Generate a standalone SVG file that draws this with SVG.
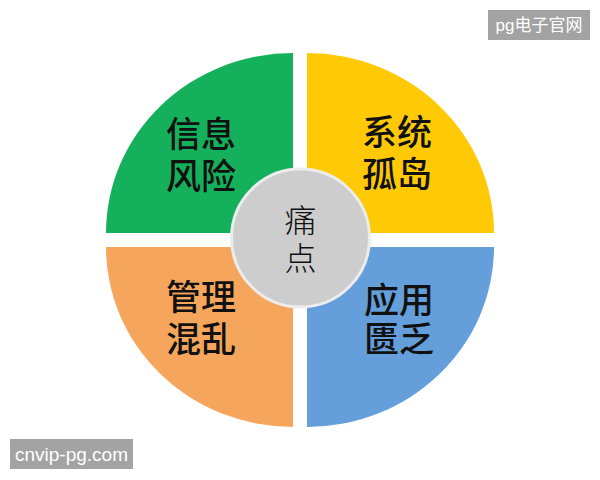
<svg xmlns="http://www.w3.org/2000/svg" width="600" height="480" viewBox="0 0 600 480">
<style>
.lbl{font-family:"Noto Sans CJK SC","Noto Sans",sans-serif;font-size:35px;font-weight:500;fill:#111;text-anchor:middle}
.ctr{font-family:"Noto Sans CJK SC",sans-serif;font-size:32px;font-weight:300;fill:#111;text-anchor:middle}
.wm{fill:#a3a3a3}
.wmt{font-family:"Liberation Sans","Noto Sans CJK SC",sans-serif;fill:#fff;text-anchor:middle;dominant-baseline:central}
</style>
<rect width="600" height="480" fill="#fff"/>
<g id="green">
<path d="M293,233 L106,233 A187,180 0 0 1 293,53 Z" fill="#15b05b"/>
<text class="lbl"><tspan x="201" y="147">信息</tspan><tspan x="201" y="189">风险</tspan></text>
</g>
<g id="yellow">
<path d="M307,233 L307,53 A187,180 0 0 1 494,233 Z" fill="#ffc906"/>
<text class="lbl"><tspan x="397" y="145">系统</tspan><tspan x="397" y="187">孤岛</tspan></text>
</g>
<g id="blue">
<path d="M307,247 L494,247 A187,180 0 0 1 307,427 Z" fill="#649fdb"/>
<text class="lbl"><tspan x="399" y="313">应用</tspan><tspan x="399" y="352">匮乏</tspan></text>
</g>
<g id="orange">
<path d="M293,247 L293,427 A187,180 0 0 1 106,247 Z" fill="#f6a65c"/>
<text class="lbl"><tspan x="201" y="310">管理</tspan><tspan x="201" y="352">混乱</tspan></text>
</g>
<g id="center">
<circle cx="300.5" cy="238" r="69" fill="#cdcdcd" stroke="#ececec" stroke-width="3"/>
<text class="ctr"><tspan x="300.5" y="232">痛</tspan><tspan x="300.5" y="270">点</tspan></text>
</g>
<g id="connectors"></g>
<g id="watermarks">
<rect class="wm" x="488" y="10" width="102" height="30"/>
<text class="wmt" x="539" y="25" font-size="17">pg电子官网</text>
<rect class="wm" x="10" y="439" width="123" height="30"/>
<text class="wmt" x="71.5" y="454" font-size="19">cnvip-pg.com</text>
</g>
</svg>
